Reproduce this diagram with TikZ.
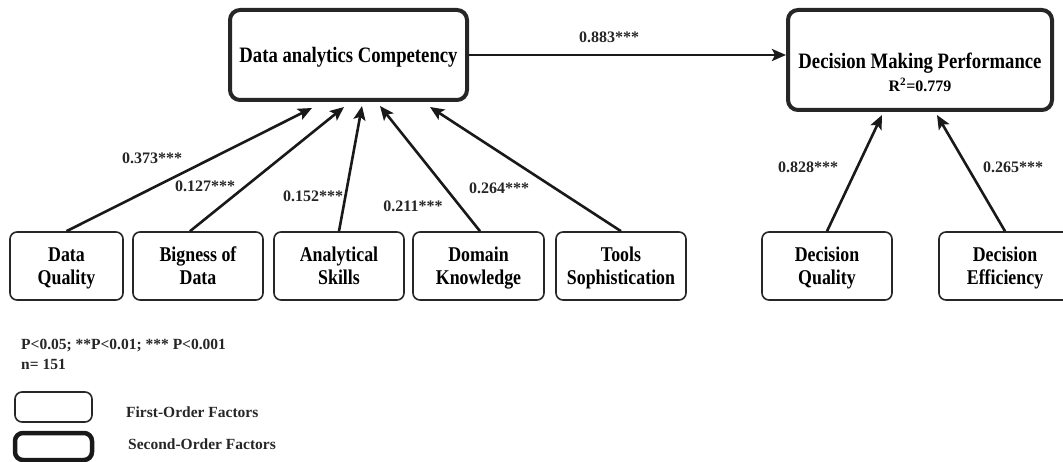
\documentclass[tikz,border=0pt]{standalone}
\usepackage{fontspec}
\setmainfont{Liberation Serif}
\newfontfamily\condf{Liberation Serif}[FakeStretch=0.85]
\usetikzlibrary{arrows.meta}
\newcommand{\twolines}[2]{\rule{0pt}{21pt}#1\\#2\rule[-6pt]{0pt}{6pt}}
\begin{document}
\begin{tikzpicture}[x=1pt,y=-1pt,
  firstbox/.style={draw=black!85, line width=1.6pt, rounded corners=7pt, align=center,
    inner sep=0pt, minimum height=68pt, font=\condf\bfseries\fontsize{21}{23}\selectfont},
  secondbox/.style={draw=black!85, line width=4pt, rounded corners=10pt, align=center, inner sep=0pt},
  bigtext/.style={align=center, inner sep=0pt, anchor=base, font=\condf\bfseries\fontsize{22}{25}\selectfont},
  coef/.style={inner sep=0pt, font=\bfseries\fontsize{16}{18}\selectfont, text=black!85},
  legtext/.style={inner sep=0pt, anchor=west, align=left, font=\bfseries\fontsize{15.5}{20}\selectfont, text=black!85},
  path/.style={draw=black!90, line width=2.6pt, -{Stealth[length=14pt,width=12pt,inset=3pt]}}
]
\useasboundingbox (0,0) rectangle (1063,462);

% second-order factors
\node[secondbox, minimum width=237pt, minimum height=90pt] (dac) at (348.5,55) {};
\node[bigtext] (dactext) at (348.5,63) {Data analytics Competency};
\node[secondbox, minimum width=264pt, minimum height=100pt] (dmp) at (920,60) {};
\node[bigtext] (dmptext) at (920,69) {Decision Making Performance};
\node[inner sep=0pt, anchor=base, font=\bfseries\fontsize{16}{18}\selectfont] (r2) at (920,92) {R\textsuperscript{2}=0.779};

% first-order factors
\node[firstbox, minimum width=113pt] (dq) at (66.5,266) {\twolines{Data}{Quality}};
\node[firstbox, minimum width=130pt] (bd) at (198,266) {\twolines{Bigness of}{Data}};
\node[firstbox, minimum width=130pt] (as) at (339,266) {\twolines{Analytical}{Skills}};
\node[firstbox, minimum width=131pt] (dk) at (478.5,266) {\twolines{Domain}{Knowledge}};
\node[firstbox, minimum width=130pt] (ts) at (621,266) {\twolines{Tools}{Sophistication}};
\node[firstbox, minimum width=130pt] (dqual) at (827,266) {\twolines{Decision}{Quality}};
\node[firstbox, minimum width=132pt] (de) at (1005,266) {\twolines{Decision}{Efficiency}};

% paths
\draw[path] (dq.north) -- ([xshift=-36.5pt,yshift=-6pt]dac.south);
\draw[path] ([xshift=-8pt]bd.north) -- ([xshift=-4.5pt,yshift=-5pt]dac.south);
\draw[path] (as.north) -- ([xshift=13.5pt,yshift=-4pt]dac.south);
\draw[path] ([xshift=1.5pt]dk.north) -- ([xshift=31.5pt,yshift=-4pt]dac.south);
\draw[path] (ts.north) -- ([xshift=81.5pt,yshift=-5pt]dac.south);
\draw[path] (dqual.north) -- ([xshift=-38pt,yshift=-3pt]dmp.south);
\draw[path] (de.north) -- ([xshift=17pt,yshift=-3pt]dmp.south);
\draw[path] (dac.east) -- (dac.east -| dmp.west);

% coefficients
\node[coef] (c1) at (152,158) {0.373***};
\node[coef] (c2) at (205,186) {0.127***};
\node[coef] (c3) at (313,196) {0.152***};
\node[coef] (c4) at (413,206) {0.211***};
\node[coef] (c5) at (499,188) {0.264***};
\node[coef] (c6) at (808,167) {0.828***};
\node[coef] (c7) at (1013,167) {0.265***};
\node[coef] (c8) at (609,37) {0.883***};

% legend
\node[legtext] (sig) at (21,346) {P<0.05; **P<0.01; *** P<0.001};
\node[legtext] (nn) at (21,364) {n= 151};
\node[draw=black!85, line width=1.6pt, rounded corners=7pt, minimum width=77pt, minimum height=30pt, inner sep=0pt] (leg1) at (53.5,407) {};
\node[draw=black!90, line width=4.5pt, rounded corners=8pt, minimum width=77pt, minimum height=27pt, inner sep=0pt] (leg2) at (53.5,446.5) {};
\node[legtext] (leg1t) at (126,412) {First-Order Factors};
\node[legtext] (leg2t) at (128,444) {Second-Order Factors};
\end{tikzpicture}
\end{document}
